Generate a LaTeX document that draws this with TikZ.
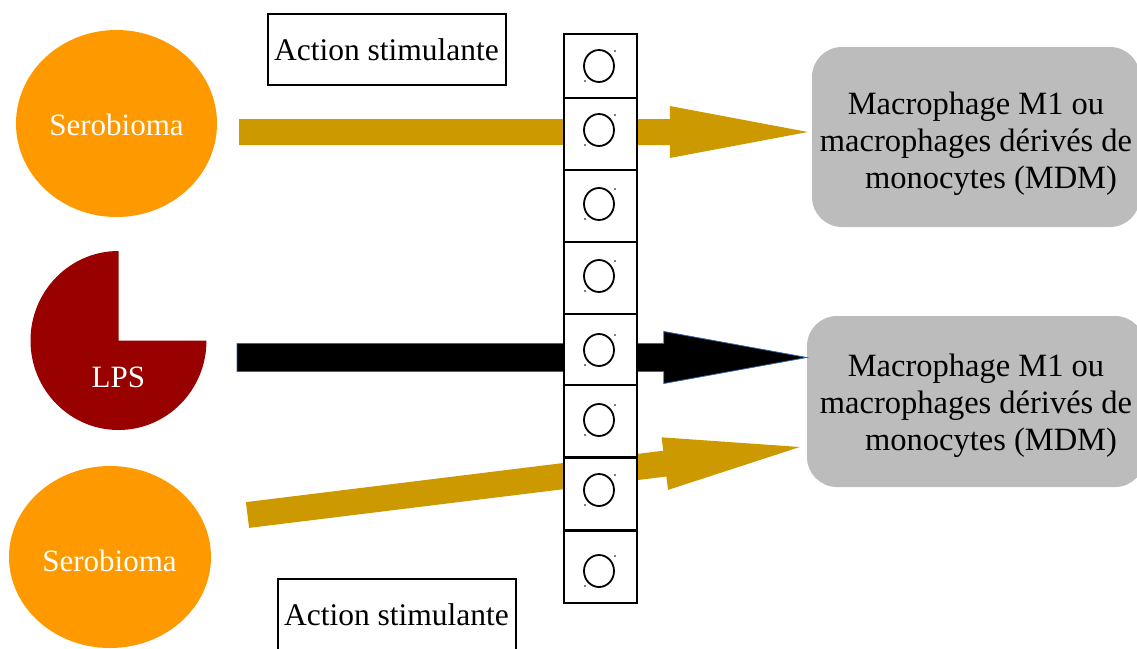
\documentclass[tikz,border=0pt]{standalone}
\usepackage{fontspec}
\setmainfont{Liberation Serif}
\usetikzlibrary{calc,shapes.geometric}

\definecolor{sero}{HTML}{FF9900}
\definecolor{lpsred}{HTML}{990000}
\definecolor{gold}{HTML}{CC9900}
\definecolor{macgray}{HTML}{BCBCBC}
\definecolor{edgeblue}{HTML}{3465A4}

% block arrow: #1 tail, #2 tip, #3 head length, #4 half shaft width, #5 half head width, #6 style
\newcommand\blockarrow[6]{%
  \coordinate (ba-b) at ($(#2)!#3!(#1)$);
  \path[#6] ($(#1)!#4!90:(#2)$) -- ($(ba-b)!#4!-90:(#1)$) -- ($(ba-b)!#5!-90:(#1)$)
    -- (#2) -- ($(ba-b)!#5!90:(#1)$) -- ($(ba-b)!#4!90:(#1)$) -- ($(#1)!#4!-90:(#2)$) -- cycle;
}

\begin{document}
\begin{tikzpicture}[x=1pt,y=-1pt,
  serostyle/.style={ellipse, fill=sero, inner sep=0pt},
  whitetext/.style={text=white, inner sep=0pt, font=\fontsize{31}{36}\selectfont},
  labelbox/.style={draw, line width=2pt, inner sep=0pt, minimum height=71pt, minimum width=238pt,
    font=\fontsize{31.5}{36}\selectfont},
  macbox/.style={fill=macgray, rounded corners=30pt, inner sep=0pt},
  mactext/.style={align=center, inner sep=0pt, font=\fontsize{32.5}{37}\selectfont},
  cell/.style={draw, fill=white, line width=2pt, minimum width=73pt, inner sep=0pt},
  cellmark/.style={draw, ellipse, line width=1.8pt, minimum width=30pt, minimum height=32pt, inner sep=0pt},
  speck/.style={fill=black},
]
\useasboundingbox (0,0) rectangle (1137,648);
\clip (0,0) rectangle (1137,648);

% sources
\node[serostyle, minimum width=201pt, minimum height=187pt] (sero1) at (116.5,123.5) {};
\node[whitetext] (sero1t) at (116.5,125) {Serobioma};
\node[serostyle, minimum width=202pt, minimum height=182pt] (sero2) at (110,557) {};
\node[whitetext] (sero2t) at (109.5,561) {Serobioma};

\coordinate (lps) at (118.5,340.5);
\fill[lpsred] (lps) -- ++(88,0) arc[start angle=0, end angle=270, x radius=88, y radius=89.5] -- cycle;
\node[whitetext] (lpst) at (118.3,377) {LPS};

% labels
\node[labelbox] (act1) at (386.5,49.5) {Action stimulante};
\node[labelbox] (act2) at (396.5,614.5) {Action stimulante};

% targets
\node[macbox, minimum width=328pt, minimum height=180pt] (m1) at (976,137) {};
\node[mactext] (m1t) at (976,144) {Macrophage M1 ou\\macrophages dérivés de\\\hspace*{30pt}monocytes (MDM)};
\node[macbox, minimum width=338pt, minimum height=171pt] (m2) at (976,401.5) {};
\node[mactext] (m2t) at (976,406) {Macrophage M1 ou\\macrophages dérivés de\\\hspace*{30pt}monocytes (MDM)};

% arrows
\coordinate (tailA) at (239,132);
\coordinate (tipA) at ($(m1.west)+(-4,-5)$);
\coordinate (tailB) at (237,357.5);
\coordinate (tipB) at ($(m2.west)+(0,-44)$);
\coordinate (tailC) at (247.5,515);
\coordinate (tipC) at ($(m2.west)+(-7,45.5)$);

\blockarrow{tailA}{tipA}{138pt}{13pt}{26pt}{fill=gold}
\blockarrow{tailB}{tipB}{143pt}{14pt}{26pt}{fill=black, draw=edgeblue, line width=0.8pt}
\blockarrow{tailC}{tipC}{136pt}{13pt}{26.5pt}{fill=gold}

% membrane column
\node[cell, minimum height=64pt] (c1) at (600.5,66) {};
\foreach \i/\cy in {2/134,3/206,4/278,5/349.5,6/421,7/493.5,8/566.5}
  \node[cell, minimum height=72pt] (c\i) at (600.5,\cy) {};

\foreach \i/\my in {1/66,2/130,3/204,4/276,5/350,6/420,7/490,8/571}{
  \node[cellmark] (r\i) at (599,\my) {};
  \fill[speck] (615,\my-15) circle[radius=0.8];
  \fill[speck] (585,\my+15) circle[radius=0.8];
}
\end{tikzpicture}
\end{document}
